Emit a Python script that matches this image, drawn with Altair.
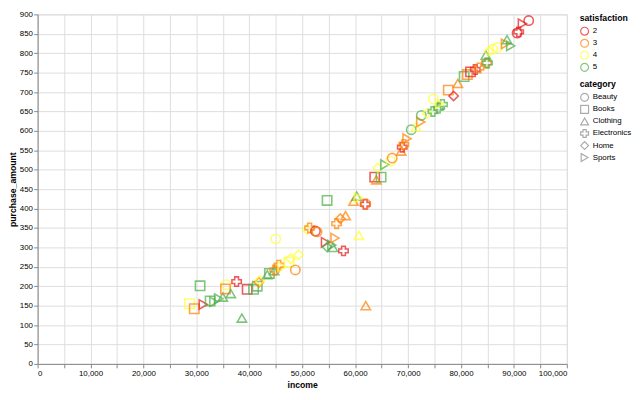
import altair as alt
import pandas as pd

income = [28700, 29600, 30700, 31300, 32600, 33300, 34200, 35000, 35600, 35500,
          36500, 37600, 38600, 39600, 40800, 41500, 41800, 42000, 43400, 43800,
          44700, 44800, 45000, 45600, 46200, 47500, 47800, 48700, 49300, 50900,
          51400, 52500, 52800, 54400, 54700, 54700, 55600, 55800, 56200, 56500,
          57200, 57800, 58200, 59700, 60300, 60600, 60700, 61900, 62000, 62000,
          63700, 64000, 64900, 64300, 65600, 66700, 67000, 68700, 68900, 69200,
          69800, 70600, 71500, 72400, 72500, 73600, 74800, 74700, 75700, 76500,
          76000, 77600, 78600, 79400, 80600, 81200, 81800, 82700, 83400, 84800,
          85000, 84700, 85300, 86000, 86900, 88400, 88700, 89400, 90600, 90900,
          91600, 92800]
purchase_amount = [155, 142, 201, 153, 162, 160, 168, 172, 204, 193,
                   181, 212, 118, 192, 192, 200, 210, 215, 230, 233,
                   240, 242, 322, 254, 250, 262, 271, 242, 281, 346,
                   350, 342, 340, 313, 421, 301, 306, 300, 324, 361,
                   374, 291, 382, 419, 432, 428, 331, 411, 412, 150,
                   481, 474, 481, 505, 513, 522, 530, 548, 558, 565,
                   580, 603, 611, 623, 640, 645, 682, 650, 658, 668,
                   670, 705, 690, 722, 740, 745, 752, 758, 762, 775,
                   775, 795, 805, 810, 815, 824, 835, 819, 852, 855,
                   876, 884]
satisfaction = [4, 3, 5, 2, 5, 5, 5, 5, 4, 3,
                5, 2, 5, 2, 5, 5, 3, 4, 5, 5,
                5, 3, 4, 3, 4, 4, 4, 3, 4, 4,
                3, 2, 3, 2, 5, 5, 5, 5, 3, 3,
                3, 2, 3, 3, 5, 4, 4, 2, 3, 3,
                2, 3, 5, 4, 5, 4, 3, 3, 2, 3,
                3, 5, 4, 3, 5, 4, 4, 5, 5, 5,
                4, 3, 2, 3, 5, 3, 2, 2, 3, 3,
                5, 5, 4, 4, 4, 3, 5, 5, 2, 2,
                2, 2]
category = ["Books", "Books", "Books", "Sports", "Books", "Sports", "Sports", "Clothing", "Beauty", "Books",
            "Clothing", "Electronics", "Clothing", "Books", "Books", "Books", "Home", "Home", "Clothing", "Books",
            "Clothing", "Electronics", "Beauty", "Electronics", "Sports", "Books", "Home", "Beauty", "Home", "Home",
            "Electronics", "Beauty", "Beauty", "Sports", "Books", "Home", "Sports", "Clothing", "Sports", "Electronics",
            "Home", "Electronics", "Clothing", "Clothing", "Clothing", "Sports", "Clothing", "Electronics", "Beauty", "Clothing",
            "Books", "Clothing", "Books", "Home", "Sports", "Beauty", "Beauty", "Clothing", "Electronics", "Electronics",
            "Sports", "Beauty", "Clothing", "Sports", "Beauty", "Home", "Beauty", "Electronics", "Electronics", "Electronics",
            "Sports", "Books", "Home", "Clothing", "Books", "Books", "Books", "Electronics", "Electronics", "Electronics",
            "Electronics", "Clothing", "Home", "Beauty", "Beauty", "Sports", "Clothing", "Sports", "Beauty", "Electronics",
            "Sports", "Beauty"]

sat_levels = [2, 3, 4, 5]
sat_colors = ["#e41a1c", "#ff7f00", "#ffff33", "#4daf4a"]
cat_levels = ["Beauty", "Books", "Clothing", "Electronics", "Home", "Sports"]
cat_shapes = ["circle", "square", "triangle-up", "cross", "diamond", "triangle-right"]

df = pd.DataFrame({
    "income": income,
    "purchase_amount": purchase_amount,
    "satisfaction": satisfaction,
    "category": category,
})

x_axis = alt.Axis(labelFontSize=8, titleFontSize=8.8, tickSize=4,
                  labelPadding=1.6, titlePadding=3.2, tickCount=20,
                  labelExpr="datum.value % 10000 == 0 ? datum.label : ''")
y_axis = alt.Axis(labelFontSize=8, titleFontSize=8.8, tickSize=4,
                  labelPadding=1.2, titlePadding=2, tickCount=20)

chart = alt.Chart(df).mark_point(size=90, strokeWidth=1.6).encode(
    x=alt.X("income:Q", axis=x_axis),
    y=alt.Y("purchase_amount:Q", axis=y_axis),
    color=alt.Color("satisfaction:N", scale=alt.Scale(domain=sat_levels, range=sat_colors)),
    shape=alt.Shape("category:N", scale=alt.Scale(domain=cat_levels, range=cat_shapes)),
).properties(
    width=632,
    height=384,
    padding={"top": 0, "left": 0, "right": 0, "bottom": 0},
    autosize=alt.AutoSizeParams(type="fit", contains="padding"),
).configure_legend(
    labelFontSize=8,
    titleFontSize=8.8,
    symbolSize=64,
    symbolStrokeWidth=1.2,
    offset=13,
    rowPadding=1.2,
    clipHeight=10.5,
    titlePadding=3,
    labelOffset=3.2,
    padding=0,
)

chart.save("out.html", embed_options={"renderer": "svg", "actions": False})
